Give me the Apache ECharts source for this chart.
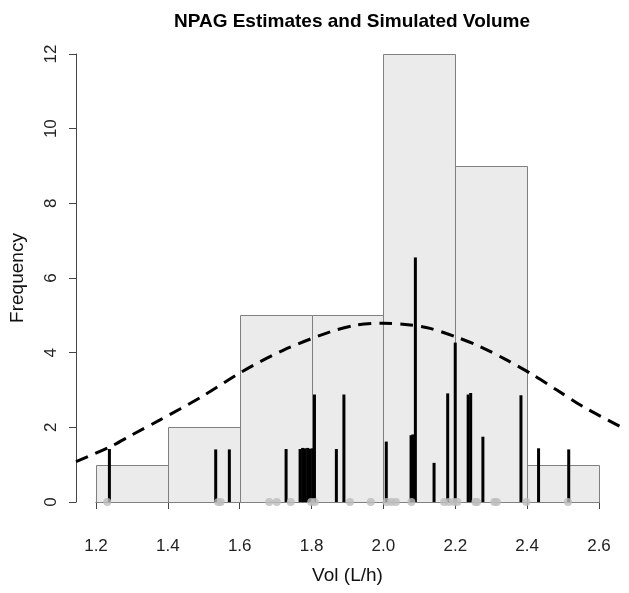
<!DOCTYPE html>
<html>
<head>
<meta charset="utf-8">
<script src="https://cdn.jsdelivr.net/npm/echarts@6/dist/echarts.min.js"></script>
<style>
html,body{margin:0;padding:0;background:#fff;}
#chart{width:629px;height:593px;}
</style>
</head>
<body>
<div id="chart"></div>
<script>
// Histogram of NPAG estimates
const binEdges = [1.2, 1.4, 1.6, 1.8, 2.0, 2.2, 2.4, 2.6];
const binCounts = [1, 2, 5, 5, 12, 9, 1];

// NPAG support points (volume) and their scaled probabilities (vertical lines)
const npagVol  = [1.237, 1.533, 1.571, 1.729, 1.768, 1.775, 1.782, 1.789, 1.796, 1.803, 1.808, 1.869, 1.890,
                  2.008, 2.077, 2.082, 2.089, 2.141, 2.179, 2.200, 2.236, 2.243, 2.277, 2.383, 2.432, 2.516];
const npagProb = [1.42, 1.41, 1.41, 1.42, 1.42, 1.45, 1.44, 1.45, 1.43, 1.44, 2.88, 1.42, 2.88,
                  1.62, 1.79, 1.81, 6.55, 1.05, 2.91, 4.27, 2.88, 2.92, 1.75, 2.86, 1.44, 1.41];

// Simulated volumes (grey points on the baseline)
const simVol = [1.231, 1.540, 1.547, 1.682, 1.703, 1.742, 1.799, 1.809, 1.907, 1.965, 2.009, 2.022, 2.035,
                2.078, 2.169, 2.182, 2.197, 2.206, 2.256, 2.261, 2.309, 2.316, 2.398, 2.514];

// Dashed density curve
const curveX = [1.144, 1.239, 1.300, 1.378, 1.494, 1.606, 1.722, 1.852, 1.926, 2.000, 2.075, 2.130, 2.200,
                2.270, 2.344, 2.409, 2.483, 2.557, 2.660];
const curveY = [1.08, 1.48, 1.80, 2.20, 2.82, 3.49, 4.07, 4.56, 4.74, 4.79, 4.74, 4.65, 4.43,
                4.16, 3.80, 3.45, 3.00, 2.55, 2.02];

const xTickMin = 1.2, xTickMax = 2.6, xTickStep = 0.2;
const yTickMin = 0, yTickMax = 12, yTickStep = 2;

const FONT = "'Liberation Sans', Arial, sans-serif";
const chart = echarts.init(document.getElementById('chart'), null, {renderer: 'canvas'});

const barData = binCounts.map((c, i) => [binEdges[i], binEdges[i + 1], c]);
const lineData = npagVol.map((v, i) => [v, npagProb[i]]);
const dotData = simVol.map(v => [v, 0]);
const curveData = curveX.map((v, i) => [v, curveY[i]]);

const option = {
  animation: false,
  backgroundColor: '#ffffff',
  title: {
    text: 'NPAG Estimates and Simulated Volume',
    left: 347, top: 7, textAlign: 'center',
    textStyle: {fontFamily: FONT, fontSize: 19, fontWeight: 'bold', color: '#000'}
  },
  grid: [
    {left: 76, top: 36, width: 543, height: 484, containLabel: false, outerBoundsMode: 'none'},
    {left: 96, top: 54, width: 503, height: 448, containLabel: false, outerBoundsMode: 'none'}
  ],
  xAxis: [
    {gridIndex: 0, type: 'value', min: 1.144, max: 2.656, show: false},
    {gridIndex: 1, type: 'value', min: xTickMin, max: xTickMax, interval: xTickStep, offset: 18,
     position: 'bottom',
     name: 'Vol (L/h)', nameLocation: 'middle', nameGap: 46,
     nameTextStyle: {fontFamily: FONT, fontSize: 19, color: '#111'},
     axisLine: {show: true, lineStyle: {color: '#444', width: 1}},
     axisTick: {show: true, length: 7, lineStyle: {color: '#444'}},
     axisLabel: {fontFamily: FONT, fontSize: 17, color: '#222', margin: 18,
                 formatter: v => v.toFixed(1)},
     splitLine: {show: false}}
  ],
  yAxis: [
    {gridIndex: 0, type: 'value', min: -0.48, max: 12.48, show: false},
    {gridIndex: 1, type: 'value', min: yTickMin, max: yTickMax, interval: yTickStep, offset: 20,
     position: 'left',
     name: 'Frequency', nameLocation: 'middle', nameGap: 49, nameRotate: 90,
     nameTextStyle: {fontFamily: FONT, fontSize: 19, color: '#111'},
     axisLine: {show: true, lineStyle: {color: '#444', width: 1}},
     axisTick: {show: true, length: 7, lineStyle: {color: '#444'}},
     axisLabel: {fontFamily: FONT, fontSize: 17, color: '#222', margin: 16, rotate: 90},
     splitLine: {show: false}}
  ],
  series: [
    {
      type: 'custom', xAxisIndex: 0, yAxisIndex: 0, data: barData,
      renderItem: (params, api) => {
        const p0 = api.coord([api.value(0), 0]);
        const p1 = api.coord([api.value(1), api.value(2)]);
        return {
          type: 'rect',
          shape: {x: Math.round(p0[0]) + 0.5, y: Math.round(p1[1]) + 0.5,
                  width: Math.round(p1[0]) - Math.round(p0[0]), height: Math.round(p0[1]) - Math.round(p1[1])},
          style: {fill: '#ebebeb', stroke: '#808080', lineWidth: 1}
        };
      },
      z: 1
    },
    {
      type: 'line', xAxisIndex: 0, yAxisIndex: 0, data: curveData,
      smooth: 0.3, showSymbol: false, symbol: 'none',
      lineStyle: {color: '#000', width: 3, type: [13, 8]},
      z: 2
    },
    {
      type: 'custom', xAxisIndex: 0, yAxisIndex: 0, data: lineData,
      renderItem: (params, api) => {
        const p0 = api.coord([api.value(0), 0]);
        const p1 = api.coord([api.value(0), api.value(1)]);
        return {
          type: 'line',
          shape: {x1: p0[0], y1: p0[1], x2: p1[0], y2: p1[1]},
          style: {stroke: '#000', lineWidth: 3}
        };
      },
      z: 3
    },
    {
      type: 'scatter', xAxisIndex: 0, yAxisIndex: 0, data: dotData,
      symbol: 'circle', symbolSize: 8,
      itemStyle: {color: '#bdbdbd'},
      z: 4
    },
    {type: 'scatter', xAxisIndex: 1, yAxisIndex: 1, data: [], silent: true}
  ]
};
chart.setOption(option);
</script>
</body>
</html>
